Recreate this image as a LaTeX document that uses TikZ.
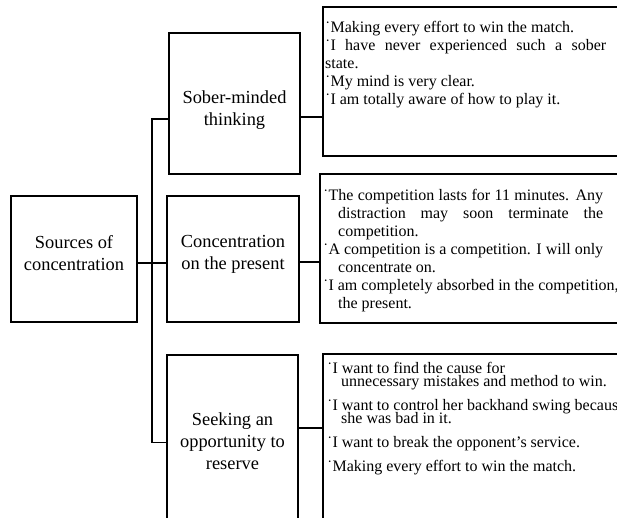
\documentclass[tikz,border=0pt]{standalone}
\usepackage{fontspec}
\setmainfont{Liberation Serif}
\usetikzlibrary{positioning,calc}

\tolerance=10000
\hyphenpenalty=10000
\exhyphenpenalty=10000

% small mark in front of each quote
\newcommand{\qmark}{˙}
\newcommand{\quotepar}[1]{\par\noindent\hangindent=#1pt\hangafter=1\relax\qmark}

\begin{document}
\begin{tikzpicture}[x=1pt,y=-1pt,
  box/.style={draw, line width=1.6pt, inner sep=0pt},
  lbl/.style={align=center, inner sep=0pt,
    font=\fontsize{18.4}{22}\selectfont},
  quotebox/.style={draw, line width=1.6pt, inner sep=0pt, anchor=north west},
  quote/.style={anchor=north west, inner sep=0pt,
    font=\fontsize{16}{18}\selectfont},
  link/.style={line width=1.6pt}]
\useasboundingbox (0,0) rectangle (617,517);
\clip (0,0) rectangle (617,517);

% Root
\node[box, minimum width=126, minimum height=126] (src) at (74,259) {};
\node[lbl] (src-lbl) at ($(src)+(0,-6)$) {Sources of\\concentration};

% Sources
\node[box, minimum width=131, minimum height=141] (sober) at (234.5,103.5) {};
\node[lbl] (sober-lbl) at ($(sober)+(0,7)$) {Sober-minded\\thinking};
\node[box, minimum width=132, minimum height=126] (conc) at (233,259) {};
\node[lbl] (conc-lbl) at ($(conc)+(0,-5)$) {Concentration\\on the present};
\node[box, minimum width=131, minimum height=175] (seek) at (232.5,442.5) {};
\node[lbl] (seek-lbl) at ($(seek)+(0,-1)$) {Seeking an\\opportunity to\\reserve};

% Quote boxes (cut at the right and bottom)
\node[quotebox, minimum width=300, minimum height=149] (t1) at (322,6) {};
\node[quotebox, minimum width=303, minimum height=149] (t2) at (319,173) {};
\node[quotebox, minimum width=300, minimum height=180] (t3) at (322,353) {};

% Quotes
\node[quote, text width=281, align=justify] (q1) at (325,14) {%
\quotepar{0}Making every effort to win the match.
\quotepar{0}I have never experienced such a sober\linebreak state.
\quotepar{0}My mind is very clear.
\quotepar{0}I am totally aware of how to play it.\par};

\node[quote, text width=280, align=justify] (q2) at (323,182) {%
\quotepar{15}The competition lasts for 11 minutes. Any\linebreak distraction may soon terminate the\linebreak competition.
\quotepar{15}A competition is a competition. I will only\linebreak concentrate on.
\quotepar{15}\mbox{I am completely absorbed in the competition,}\linebreak the present.\par};

\node[quote, text width=295, align=flush left,
  font=\fontsize{16}{13}\selectfont] (q3) at (327,360) {%
\lineskiplimit=-20pt
\quotepar{14}I want to find the cause for\newline unnecessary mistakes and method to win.\setlength{\parskip}{11pt}
\quotepar{14}I want to control her backhand swing becaus\newline she was bad in it.
\quotepar{14}I want to break the opponent's service.
\quotepar{14}Making every effort to win the match.\par};

% Connectors
\coordinate (trunk) at (152,119);
\coordinate (mid) at (152,263);
\coordinate (j1) at (311,117);
\coordinate (j2) at (309,262);
\coordinate (j3) at (310,428);

\draw[link] (src.east |- mid) -- (conc.west |- mid);
\draw[link] (sober.west |- trunk) -- (trunk) |- (seek.west);

\draw[link] (sober.east |- j1) -- (t1.west |- j1);
\draw[link] (conc.east |- j2) -- (t2.west |- j2);
\draw[link] (seek.east |- j3) -- (t3.west |- j3);

\end{tikzpicture}
\end{document}
